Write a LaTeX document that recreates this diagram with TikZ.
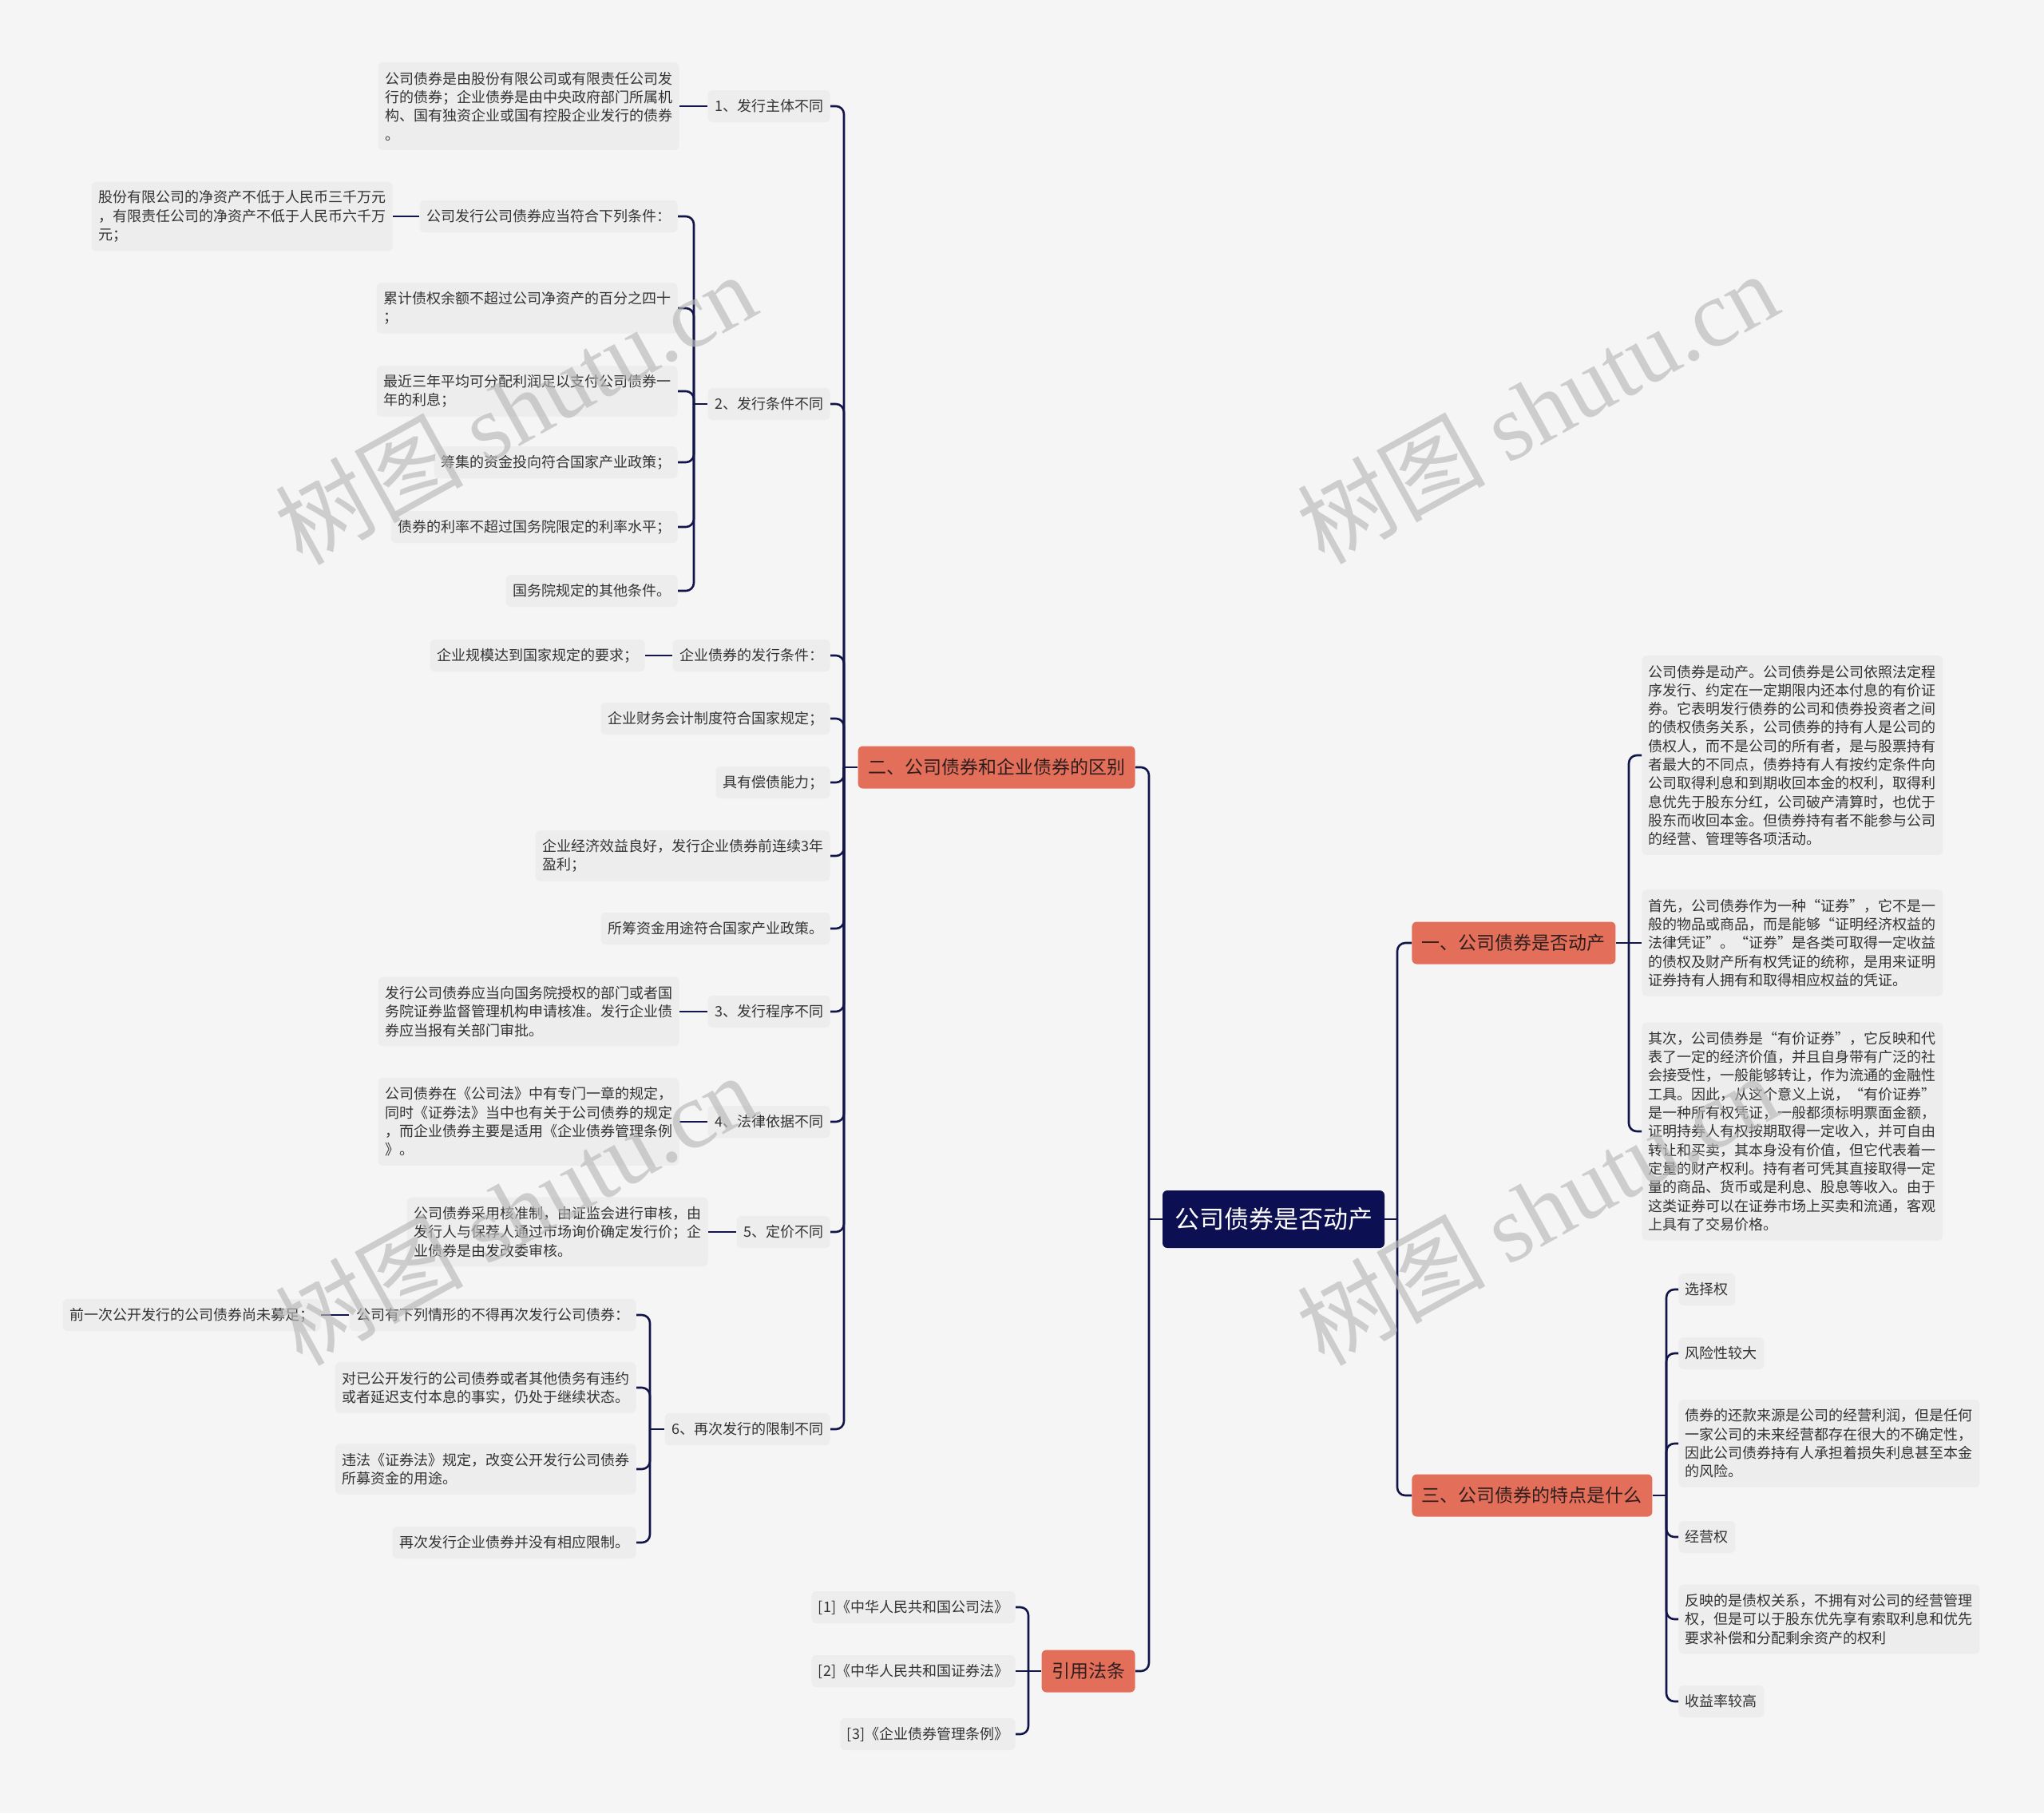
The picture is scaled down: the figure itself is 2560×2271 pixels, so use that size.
\documentclass[tikz,border=0pt]{standalone}
\usepackage{fontspec}
\setmainfont{Noto Sans CJK SC}
\newfontfamily\wmlatin{Liberation Serif}
\newcommand\myLQ{\makebox[1em][r]{“}}
\newcommand\myRQ{\makebox[1em][l]{”}}
\definecolor{bgc}{HTML}{F5F5F5}
\definecolor{leafc}{HTML}{EDEDED}
\definecolor{txtc}{HTML}{333333}
\definecolor{brc}{HTML}{E36F5A}
\definecolor{brtxt}{HTML}{2E1E1E}
\definecolor{rootc}{HTML}{0C0F52}
\definecolor{linec}{HTML}{12154A}
\definecolor{wmc}{HTML}{B8B8B8}
\begin{document}
\begin{tikzpicture}[x=0.5pt,y=-0.5pt,
  conn/.style={draw=linec,line width=1.3pt,rounded corners=5pt},
  leaf/.style={fill=leafc,rounded corners=3pt,inner xsep=4.25pt,inner ysep=1pt,minimum height=20pt,font=\fontsize{9}{11.65}\selectfont,text=txtc,align=left},
  ml/.style={minimum height={(#1-1)*11.65pt+20pt}},
  branch/.style={fill=brc,rounded corners=3pt,inner xsep=6.25pt,inner ysep=1pt,minimum height=26.5pt,font=\fontsize{11.5}{14}\selectfont,text=brtxt},
  rootn/.style={fill=rootc,rounded corners=3pt,inner xsep=7.5pt,inner ysep=1pt,minimum height=36pt,font=\fontsize{15.5}{18}\selectfont,text=white},
  wm/.style={text=wmc,text opacity=0.65,rotate=29,font=\fontsize{59}{62}\selectfont,inner sep=0pt}
]
\useasboundingbox (0,0) rectangle (2560,2271);
\fill[bgc] (0,0) rectangle (2560,2271);

% root and branches
\node[rootn] (root) at (1595,1527) {公司债券是否动产};
\node[branch,anchor=east] (b2) at (1422,961) {二、公司债券和企业债券的区别};
\node[branch,anchor=east] (bref) at (1422,2093) {引用法条};
\node[branch,anchor=west] (b1) at (1768,1181) {一、公司债券是否动产};
\node[branch,anchor=west] (b3) at (1768,1873) {三、公司债券的特点是什么};

\coordinate (jL) at (1439,1527);
\coordinate (jR) at (1750,1527);
\draw[conn] (root.west) -- (jL);
\draw[conn] (jL) |- (b2.east);
\draw[conn] (jL) |- (bref.east);
\draw[conn] (root.east) -- (jR);
\draw[conn] (jR) |- (b1.west);
\draw[conn] (jR) |- (b3.west);

% children of 二
\node[leaf,anchor=east] (i1) at (1040,133) {1、发行主体不同};
\node[leaf,anchor=east] (i2) at (1040,506) {2、发行条件不同};
\node[leaf,anchor=east] (e1) at (1040,821) {企业债券的发行条件：};
\node[leaf,anchor=east] (e2) at (1040,900) {企业财务会计制度符合国家规定；};
\node[leaf,anchor=east] (e3) at (1040,980) {具有偿债能力；};
\node[leaf,ml=2,anchor=east] (e4) at (1040,1072) {企业经济效益良好，发行企业债券前连续3年\\盈利；};
\node[leaf,anchor=east] (e5) at (1040,1163) {所筹资金用途符合国家产业政策。};
\node[leaf,anchor=east] (i3) at (1040,1267) {3、发行程序不同};
\node[leaf,anchor=east] (i4) at (1040,1405) {4、法律依据不同};
\node[leaf,anchor=east] (i5) at (1040,1543) {5、定价不同};
\node[leaf,anchor=east] (i6) at (1040,1790) {6、再次发行的限制不同};

\coordinate (j2) at (1057,961);
\draw[conn] (b2.west) -- (j2);
\foreach \c in {i1,i2,e1,e2,e3,e4,e5,i3,i4,i5,i6} \draw[conn] (j2) |- (\c.east);

% leaf of 1
\node[leaf,ml=4,anchor=east] (l1) at (851,133) {公司债券是由股份有限公司或有限责任公司发\\行的债券；企业债券是由中央政府部门所属机\\构、国有独资企业或国有控股企业发行的债券\\。};
\draw[conn] (i1.west) -- (l1.east);

% children of 2
\node[leaf,anchor=east] (c2a) at (849,271) {公司发行公司债券应当符合下列条件：};
\node[leaf,ml=3,anchor=east] (c2a1) at (492,271) {股份有限公司的净资产不低于人民币三千万元\\，有限责任公司的净资产不低于人民币六千万\\元；};
\node[leaf,ml=2,anchor=east] (c2b) at (849,386) {累计债权余额不超过公司净资产的百分之四十\\；};
\node[leaf,ml=2,anchor=east] (c2c) at (849,490) {最近三年平均可分配利润足以支付公司债券一\\年的利息；};
\node[leaf,anchor=east] (c2d) at (849,579) {筹集的资金投向符合国家产业政策；};
\node[leaf,anchor=east] (c2e) at (849,660) {债券的利率不超过国务院限定的利率水平；};
\node[leaf,anchor=east] (c2f) at (849,740) {国务院规定的其他条件。};
\coordinate (jc2) at (869,506);
\draw[conn] (i2.west) -- (jc2);
\foreach \c in {c2a,c2b,c2c,c2d,c2e,c2f} \draw[conn] (jc2) |- (\c.east);
\draw[conn] (c2a.west) -- (c2a1.east);

% child of 企业债券的发行条件
\node[leaf,anchor=east] (e1a) at (808,821) {企业规模达到国家规定的要求；};
\draw[conn] (e1.west) -- (e1a.east);

% leaves of 3,4,5
\node[leaf,ml=3,anchor=east] (l3) at (851,1267) {发行公司债券应当向国务院授权的部门或者国\\务院证券监督管理机构申请核准。发行企业债\\券应当报有关部门审批。};
\draw[conn] (i3.west) -- (l3.east);
\node[leaf,ml=4,anchor=east] (l4) at (851,1405) {公司债券在《公司法》中有专门一章的规定，\\同时《证券法》当中也有关于公司债券的规定\\，而企业债券主要是适用《企业债券管理条例\\》。};
\draw[conn] (i4.west) -- (l4.east);
\node[leaf,ml=3,anchor=east] (l5) at (887,1543) {公司债券采用核准制，由证监会进行审核，由\\发行人与保荐人通过市场询价确定发行价；企\\业债券是由发改委审核。};
\draw[conn] (i5.west) -- (l5.east);

% children of 6
\node[leaf,anchor=east] (c6a) at (797,1647) {公司有下列情形的不得再次发行公司债券：};
\node[leaf,anchor=east] (c6a1) at (402,1647) {前一次公开发行的公司债券尚未募足；};
\node[leaf,ml=2,anchor=east] (c6b) at (797,1738) {对已公开发行的公司债券或者其他债务有违约\\或者延迟支付本息的事实，仍处于继续状态。};
\node[leaf,ml=2,anchor=east] (c6c) at (797,1840) {违法《证券法》规定，改变公开发行公司债券\\所募资金的用途。};
\node[leaf,anchor=east] (c6d) at (797,1932) {再次发行企业债券并没有相应限制。};
\coordinate (jc6) at (814,1790);
\draw[conn] (i6.west) -- (jc6);
\foreach \c in {c6a,c6b,c6c,c6d} \draw[conn] (jc6) |- (\c.east);
\draw[conn] (c6a.west) -- (c6a1.east);

% references
\node[leaf,anchor=east] (r1) at (1272,2013) {[1]《中华人民共和国公司法》};
\node[leaf,anchor=east] (r2) at (1272,2093) {[2]《中华人民共和国证券法》};
\node[leaf,anchor=east] (r3) at (1272,2172) {[3]《企业债券管理条例》};
\coordinate (jref) at (1288,2093);
\draw[conn] (bref.west) -- (jref);
\draw[conn] (jref) |- (r1.east);
\draw[conn] (jref) -- (r2.east);
\draw[conn] (jref) |- (r3.east);

% children of 一
\node[leaf,ml=10,anchor=west] (pa) at (2056,946) {公司债券是动产。公司债券是公司依照法定程\\序发行、约定在一定期限内还本付息的有价证\\券。它表明发行债券的公司和债券投资者之间\\的债权债务关系，公司债券的持有人是公司的\\债权人，而不是公司的所有者，是与股票持有\\者最大的不同点，债券持有人有按约定条件向\\公司取得利息和到期收回本金的权利，取得利\\息优先于股东分红，公司破产清算时，也优于\\股东而收回本金。但债券持有者不能参与公司\\的经营、管理等各项活动。};
\node[leaf,ml=5,anchor=west] (pb) at (2056,1181) {首先，公司债券作为一种\myLQ 证券\myRQ ，它不是一\\般的物品或商品，而是能够\myLQ 证明经济权益的\\法律凭证\myRQ 。\myLQ 证券\myRQ 是各类可取得一定收益\\的债权及财产所有权凭证的统称，是用来证明\\证券持有人拥有和取得相应权益的凭证。};
\node[leaf,ml=11,anchor=west] (pc) at (2056,1417) {其次，公司债券是\myLQ 有价证券\myRQ ，它反映和代\\表了一定的经济价值，并且自身带有广泛的社\\会接受性，一般能够转让，作为流通的金融性\\工具。因此，从这个意义上说，\myLQ 有价证券\myRQ \\是一种所有权凭证，一般都须标明票面金额，\\证明持券人有权按期取得一定收入，并可自由\\转让和买卖，其本身没有价值，但它代表着一\\定量的财产权利。持有者可凭其直接取得一定\\量的商品、货币或是利息、股息等收入。由于\\这类证券可以在证券市场上买卖和流通，客观\\上具有了交易价格。};
\coordinate (j1) at (2040,1181);
\draw[conn] (b1.east) -- (j1);
\draw[conn] (j1) |- (pa.west);
\draw[conn] (j1) -- (pb.west);
\draw[conn] (j1) |- (pc.west);

% children of 三
\node[leaf,anchor=west] (f1) at (2102,1615) {选择权};
\node[leaf,anchor=west] (f2) at (2102,1695) {风险性较大};
\node[leaf,ml=4,anchor=west] (f3) at (2102,1808) {债券的还款来源是公司的经营利润，但是任何\\一家公司的未来经营都存在很大的不确定性，\\因此公司债券持有人承担着损失利息甚至本金\\的风险。};
\node[leaf,anchor=west] (f4) at (2102,1925) {经营权};
\node[leaf,ml=3,anchor=west] (f5) at (2102,2028) {反映的是债权关系，不拥有对公司的经营管理\\权，但是可以于股东优先享有索取利息和优先\\要求补偿和分配剩余资产的权利};
\node[leaf,anchor=west] (f6) at (2102,2131) {收益率较高};
\coordinate (j3) at (2087,1873);
\draw[conn] (b3.east) -- (j3);
\foreach \c in {f1,f2,f3,f4,f5,f6} \draw[conn] (j3) |- (\c.west);

% watermarks
\node[wm] (w1) at (645,511) {树图 {\wmlatin shutu.cn}};
\node[wm] (w2) at (1925,510) {树图 {\wmlatin shutu.cn}};
\node[wm] (w3) at (645,1514) {树图 {\wmlatin shutu.cn}};
\node[wm] (w4) at (1925,1514) {树图 {\wmlatin shutu.cn}};
\end{tikzpicture}
\end{document}
